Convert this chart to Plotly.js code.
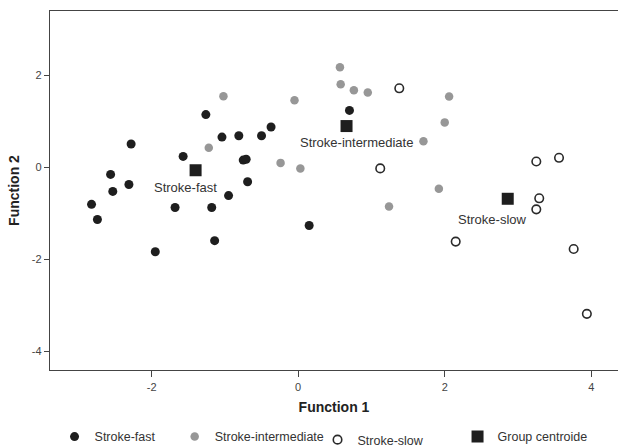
<!DOCTYPE html>
<html>
<head>
<meta charset="utf-8">
<script src="https://cdn.plot.ly/plotly-3.0.1.min.js"></script>
<style>html,body{margin:0;padding:0;background:#fff;}#chart{width:618px;height:447px;}</style>
</head>
<body>
<div id="chart"></div>
<script>
// Stroke-fast group (Function 1, Function 2)
const fastX = [-2.82, -2.74, -2.56, -2.53, -2.31, -2.28, -1.95, -1.68, -1.57, -1.26, -1.18, -1.14, -1.04, -0.95, -0.81, -0.75, -0.71, -0.69, -0.50, -0.37, 0.15, 0.70];
const fastY = [-0.80, -1.13, -0.15, -0.52, -0.37, 0.51, -1.83, -0.87, 0.24, 1.15, -0.87, -1.59, 0.66, -0.61, 0.69, 0.16, 0.18, -0.31, 0.69, 0.88, -1.26, 1.24];
// Stroke-intermediate group
const interX = [-1.02, -1.22, -0.24, 0.03, -0.05, 0.57, 0.58, 0.76, 0.95, 2.06, 2.00, 1.71, 1.92, 1.24];
const interY = [1.55, 0.43, 0.10, -0.02, 1.46, 2.18, 1.81, 1.68, 1.63, 1.54, 0.98, 0.57, -0.46, -0.85];
// Stroke-slow group
const slowX = [1.38, 1.12, 2.15, 3.25, 3.56, 3.29, 3.25, 3.76, 3.94];
const slowY = [1.72, -0.02, -1.61, 0.13, 0.21, -0.67, -0.91, -1.77, -3.18];
// Group centroids
const centroidNames = ["Stroke-fast", "Stroke-intermediate", "Stroke-slow"];
const centroidX = [-1.40, 0.66, 2.86];
const centroidY = [-0.06, 0.90, -0.68];
// Axis ticks
const tickVals = [-4, -2, 0, 2, 4];
const tickText = ["-4", "-2", "0", "2", "4"];

const FONT = "Liberation Sans, Arial, sans-serif";

const traces = [
  {x: fastX, y: fastY, type: "scatter", mode: "markers", name: "Stroke-fast", legend: "legend",
   marker: {symbol: "circle", size: 9, color: "#1e1e1e", line: {width: 0}}},
  {x: interX, y: interY, type: "scatter", mode: "markers", name: "Stroke-intermediate", legend: "legend2",
   marker: {symbol: "circle", size: 8.5, color: "#979797", line: {width: 0}}},
  {x: slowX, y: slowY, type: "scatter", mode: "markers", name: "Stroke-slow", legend: "legend3",
   marker: {symbol: "circle", size: 8.5, color: "#ffffff", line: {width: 1.6, color: "#2a2a2a"}}},
  {x: centroidX, y: centroidY, type: "scatter", mode: "markers", name: "Group centroide", legend: "legend4",
   marker: {symbol: "square", size: 12, color: "#1e1e1e", line: {width: 0}}}
];

const offsets = [[-10, -17], [10, -16], [-15, -21]];
const annotations = centroidNames.map((t, i) => ({
  x: centroidX[i], y: centroidY[i], xref: "x", yref: "y", text: t, showarrow: false,
  xshift: offsets[i][0], yshift: offsets[i][1],
  font: {family: FONT, size: 13, color: "#333333"}
}));

const legendBase = {orientation: "h", yanchor: "middle", xanchor: "left", bgcolor: "rgba(0,0,0,0)",
  font: {family: FONT, size: 12.5, color: "#333333"}, borderwidth: 0};

const layout = {
  width: 618, height: 447,
  margin: {l: 50, r: 0, t: 11, b: 77, pad: 0, autoexpand: false},
  paper_bgcolor: "#ffffff", plot_bgcolor: "#ffffff",
  font: {family: FONT, color: "#333333"},
  hovermode: false,
  xaxis: {
    range: [-3.387, 4.365], tickvals: tickVals, ticktext: tickText,
    showgrid: false, zeroline: false, showline: true, linecolor: "#444444", linewidth: 1.3,
    mirror: true, ticks: "outside", ticklen: 6, tickwidth: 1.3, tickcolor: "#444444",
    tickfont: {family: FONT, size: 11, color: "#444444"},
    title: {text: "<b>Function 1</b>", font: {family: FONT, size: 14, color: "#222222"}, standoff: 10}
  },
  yaxis: {
    range: [-4.4, 3.4], tickvals: tickVals, ticktext: tickText,
    showgrid: false, zeroline: false, showline: true, linecolor: "#444444", linewidth: 1.3,
    ticks: "outside", ticklen: 5, tickwidth: 1.3, tickcolor: "#444444",
    tickfont: {family: FONT, size: 11, color: "#444444"},
    title: {text: "<b>Function 2</b>", font: {family: FONT, size: 14, color: "#222222"}, standoff: 8}
  },
  showlegend: true,
  legend: Object.assign({}, legendBase, {x: 0.008, y: -0.1866}),
  legend2: Object.assign({}, legendBase, {x: 0.2195, y: -0.1866}),
  legend3: Object.assign({}, legendBase, {x: 0.471, y: -0.195}),
  legend4: Object.assign({}, legendBase, {x: 0.7175, y: -0.1866}),
  annotations: annotations
};

Plotly.newPlot("chart", traces, layout, {staticPlot: true, displayModeBar: false});
</script>
</body>
</html>
